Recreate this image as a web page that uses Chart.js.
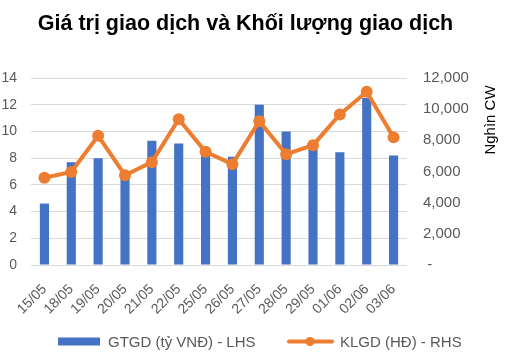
<!DOCTYPE html>
<html><head><meta charset="utf-8">
<script src="https://cdn.jsdelivr.net/npm/chart.js@4/dist/chart.umd.min.js"></script>
<style>html,body{margin:0;padding:0;background:#fff}#w{width:509px;height:357px;position:relative}</style>
</head><body><div id="w"><canvas id="c" width="509" height="357"></canvas></div>
<script>
const categories = ["15/05","18/05","19/05","20/05","21/05","22/05","25/05","26/05","27/05","28/05","29/05","01/06","02/06","03/06"];
const gtgd = [4.6, 7.7, 8.0, 6.6, 9.3, 9.1, 8.4, 8.1, 12.0, 10.0, 8.9, 8.45, 12.5, 8.2];
const klgd = [5600, 5970, 8290, 5760, 6600, 9360, 7260, 6470, 9230, 7110, 7690, 9660, 11120, 8190];
const leftTicks = [0,2,4,6,8,10,12,14];
const rightTicks = [0,2000,4000,6000,8000,10000,12000];
const titleText = "Giá trị giao dịch và Khối lượng giao dịch";
const barLabel = "GTGD (tỷ VNĐ) - LHS";
const lineLabel = "KLGD (HĐ) - RHS";
const rightTitle = "Nghìn CW";

const BLUE = "#4472C4", ORANGE = "#ED7D31", GRID = "#D9D9D9", TXT = "#595959";
const FONT = "'Liberation Sans', Arial, sans-serif";

const extras = {
  id: 'extras',
  afterDraw(chart) {
    const ctx = chart.ctx;
    // title
    ctx.save();
    ctx.fillStyle = "#000";
    ctx.font = "bold 21.5px " + FONT;
    ctx.textAlign = "center"; ctx.textBaseline = "alphabetic";
    ctx.fillText(titleText, 245.5, 30);
    ctx.restore();
    // right axis title
    ctx.save();
    ctx.fillStyle = "#000";
    ctx.font = "15px " + FONT;
    ctx.translate(491, 120);
    ctx.rotate(-Math.PI/2);
    ctx.textAlign = "center"; ctx.textBaseline = "middle";
    ctx.fillText(rightTitle, 0, 0);
    ctx.restore();
    // legend
    ctx.save();
    const ly = 341.5;
    ctx.font = "15px " + FONT;
    ctx.textBaseline = "middle"; ctx.textAlign = "left";
    ctx.fillStyle = BLUE;
    ctx.fillRect(58, ly-4, 42, 8);
    ctx.fillStyle = TXT;
    ctx.fillText(barLabel, 108, ly+1);
    ctx.strokeStyle = ORANGE; ctx.lineWidth = 4; ctx.lineCap = "round";
    ctx.beginPath(); ctx.moveTo(289, ly); ctx.lineTo(332, ly); ctx.stroke();
    ctx.fillStyle = ORANGE;
    ctx.beginPath(); ctx.arc(310, ly, 4.5, 0, Math.PI*2); ctx.fill();
    ctx.fillStyle = TXT;
    ctx.fillText(lineLabel, 340, ly+1);
    ctx.restore();
  }
};

new Chart(document.getElementById('c'), {
  data: {
    labels: categories,
    datasets: [
      { type: 'line', label: lineLabel, data: klgd, yAxisID: 'y1', borderColor: ORANGE, backgroundColor: ORANGE,
        borderWidth: 4, pointRadius: 6, pointBackgroundColor: ORANGE, pointBorderColor: ORANGE, pointBorderWidth: 0, tension: 0, order: 0 },
      { type: 'bar', label: barLabel, data: gtgd, yAxisID: 'y', backgroundColor: BLUE,
        barPercentage: 0.34, categoryPercentage: 1.0, order: 1 }
    ]
  },
  options: {
    responsive: false, animation: false, devicePixelRatio: 1,
    layout: { padding: { left: 0, right: 0, top: 78, bottom: 42 } },
    plugins: {
      legend: { display: false },
      tooltip: { enabled: false },
      title: { display: false }
    },
    scales: {
      x: {
        grid: { display: false },
        border: { display: false },
        ticks: { color: TXT, font: { family: FONT, size: 14 }, minRotation: 45, maxRotation: 45, padding: 8, autoSkip: false },
        afterFit(s) { s.height = 50; }
      },
      y: {
        position: 'left', min: 0, max: 14,
        afterBuildTicks(s) { s.ticks = leftTicks.map(v => ({ value: v })); },
        grid: { color: GRID, lineWidth: 1, drawTicks: false },
        border: { display: false },
        ticks: { color: TXT, font: { family: FONT, size: 14 }, padding: 14 },
        afterFit(s) { s.width = 31; }
      },
      y1: {
        position: 'right', min: 0, max: 12000,
        afterBuildTicks(s) { s.ticks = rightTicks.map(v => ({ value: v })); },
        grid: { display: false, drawTicks: false },
        border: { display: false },
        ticks: { color: TXT, font: { family: FONT, size: 15 }, padding: 16,
          callback: v => v === 0 ? " -" : v.toLocaleString('en-US') },
        afterFit(s) { s.width = 102; }
      }
    }
  },
  plugins: [extras]
});
</script></body></html>
